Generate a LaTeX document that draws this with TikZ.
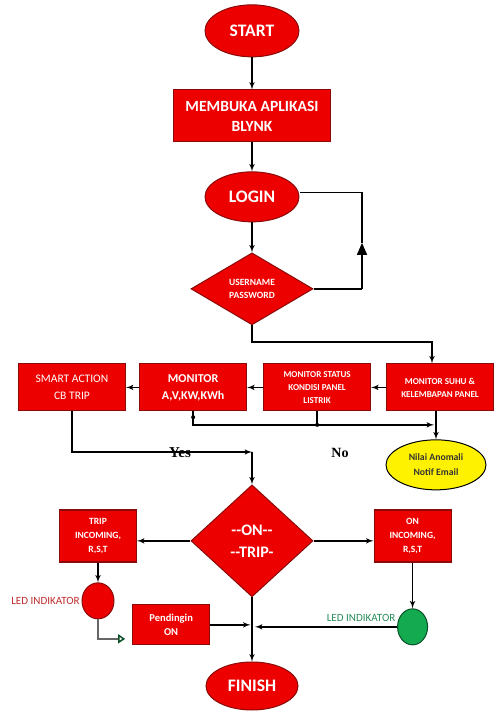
\documentclass[tikz,border=0pt]{standalone}
\usepackage{fontspec}
\setmainfont{Carlito}
\newfontfamily\timesfont{Liberation Serif}
\usetikzlibrary{shapes,arrows,arrows.meta}
\definecolor{boxred}{RGB}{236,0,0}
\definecolor{edgered}{RGB}{140,10,10}
\definecolor{ledgreen}{RGB}{20,170,80}
\definecolor{edgegreen}{RGB}{10,80,40}
\definecolor{txtred}{RGB}{190,45,45}
\definecolor{txtgreen}{RGB}{40,140,90}

\begin{document}
\begin{tikzpicture}[auto,>=latex',line width=1.5pt,
  box/.style={draw=edgered,line width=1pt,fill=boxred,rectangle,text=white,align=center,
    minimum width=3.75cm,minimum height=1.65cm,inner sep=1pt},
  oval/.style={draw=edgered,line width=1pt,fill=boxred,ellipse,text=white,
    font=\bfseries\fontsize{17.5}{20}\selectfont},
  rhombus/.style={draw=edgered,line width=1pt,fill=boxred,diamond,text=white,align=center,inner sep=0pt},
  led/.style={ellipse,line width=1pt,inner sep=0pt,minimum height=1.26cm}]
	\useasboundingbox (0cm,0cm) rectangle (17.43cm,25.13cm);
	\node [oval,minimum width=3.29cm,minimum height=1.82cm] (n0) at (8.82cm,24.05cm) {START};
	\node [box,minimum width=5.5cm,minimum height=1.82cm,font=\bfseries\fontsize{15.5}{20}\selectfont] (n1) at (8.82cm,21.07cm) {MEMBUKA APLIKASI\\BLYNK};
	\node [oval,minimum width=3.29cm,minimum height=1.75cm] (n2) at (8.82cm,18.24cm) {LOGIN};
	\node [rhombus,minimum width=4.27cm,minimum height=2.52cm,font=\bfseries\fontsize{9.5}{13}\selectfont] (n3) at (8.82cm,15.02cm) {USERNAME\\PASSWORD};
	\node [box,font=\fontsize{11.5}{17}\selectfont] (n4) at (2.52cm,11.57cm) {SMART ACTION\\CB TRIP};
	\node [box,font=\bfseries\fontsize{12}{17}\selectfont] (n5) at (6.76cm,11.57cm) {MONITOR\\A,V,KW,KWh};
	\node [box,font=\bfseries\fontsize{9}{13}\selectfont] (n6) at (11.10cm,11.57cm) {MONITOR STATUS\\KONDISI PANEL\\LISTRIK};
	\node [box,font=\bfseries\fontsize{9}{13}\selectfont] (n7) at (15.40cm,11.57cm) {MONITOR SUHU \&\\KELEMBAPAN PANEL};
	\node [draw,line width=1pt,ellipse,fill=yellow,minimum width=3.5cm,minimum height=1.75cm,align=center,text=black!80,font=\bfseries\fontsize{9.7}{15}\selectfont] (n8) at (15.26cm,8.86cm) {Nilai Anomali\\Notif Email};
	\node [font=\timesfont\bfseries\fontsize{15}{15}\selectfont] (n18) at (6.30cm,9.28cm) {Yes};
	\node [font=\timesfont\bfseries\fontsize{14}{15}\selectfont] (n19) at (11.90cm,9.28cm) {No};
	\node [rhombus,minimum width=4.27cm,minimum height=3.92cm,font=\bfseries\fontsize{16}{22}\selectfont] (n9) at (8.82cm,6.20cm) {{-}{-}ON{-}{-}\\{-}{-}TRIP{-}};
	\node [box,minimum width=2.7cm,minimum height=1.82cm,font=\bfseries\fontsize{9.5}{14}\selectfont] (n10) at (3.43cm,6.37cm) {TRIP\\INCOMING,\\R,S,T};
	\node [box,minimum width=2.7cm,minimum height=1.82cm,font=\bfseries\fontsize{9.5}{14}\selectfont] (n11) at (14.44cm,6.37cm) {ON\\INCOMING,\\R,S,T};
	\node [led,draw=edgered,fill=boxred,minimum width=1.12cm] (n12) at (3.43cm,4.10cm) {};
	\node [anchor=east,inner sep=1pt,text=txtred,font=\fontsize{11}{12}\selectfont] (n13) at (n12.west) {LED INDIKATOR};
	\node [box,minimum width=2.7cm,minimum height=1.40cm,font=\bfseries\fontsize{10.5}{13}\selectfont] (n14) at (5.99cm,3.26cm) {Pendingin\\ON};
	\node [led,draw=edgegreen,fill=ledgreen,minimum width=1.05cm] (n15) at (14.44cm,3.19cm) {};
	\node [anchor=east,inner sep=1pt,text=txtgreen,font=\fontsize{11}{12}\selectfont] (n16) at ([yshift=0.3cm]n15.west) {LED INDIKATOR};
	\node [oval,minimum width=3.22cm,minimum height=1.68cm] (n17) at (8.82cm,1.12cm) {FINISH};
	% login loop
	\coordinate (c0) at (12.67cm,15.02cm);
	\coordinate (c1) at (12.67cm,16.63cm);
	\coordinate (c3) at (15.12cm,13.16cm);
	\coordinate (c4) at (15.19cm,10.26cm);
	\coordinate (c5) at (8.82cm,9.31cm);
	\coordinate (c6) at (4.38cm,2.77cm);
	\draw [->] (n0) -- (n1);
	\draw [->] (n1) -- (n2);
	\draw [->] (n2) -- (n3);
	\draw (n3.east) -- (c0);
	\draw [-{Triangle[length=12pt,width=10pt]}] (c0) -- (c1);
	\draw (c1) |- ([yshift=0.15cm]n2.east);
	\draw [->] (n3.south) |- (c3) -- (c3 |- n7.north);
	\draw [->] (n7) -- (n6);
	\draw [->] (n6) -- (n5);
	\draw [->] (n5) -- (n4);
	\draw [->] (n5.south) |- (c4);
	\draw (n6.south) -- (n6.south |- c4);
	\fill (n6.south |- c4) circle (2pt);
	\fill ([yshift=-0.2cm]n5.south) circle (2pt);
	\draw [->] (n7.south -| n8.north) -- (n8.north);
	\draw [->] (n4.south) |- (c5);
	\draw [->] (c5) -- (n9.north);
	\draw [->] (n9.west) -- (n9.west -| n10.east);
	\draw [->] (n9.east) -- (n9.east -| n11.west);
	\draw [->] (n10) -- (n12);
	\draw [draw=black!60,-{Triangle[open,length=7pt,width=9pt,color=edgegreen]}] (n12.south) |- (c6);
	\draw [->,shorten >=1.5pt] (n14) -- (n14 -| n9);
	\draw [->] (n11) -- (n15);
	\draw [->,shorten >=3pt] (n15) -- (n15 -| n9);
	\draw [->] (n9) -- (n17);
\end{tikzpicture}
\end{document}
